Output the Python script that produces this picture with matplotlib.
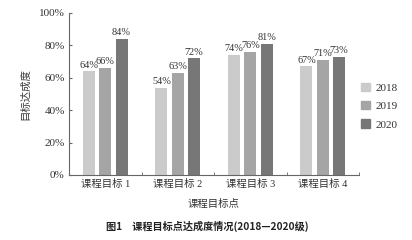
import numpy as np
import matplotlib.pyplot as plt
from matplotlib.patches import Patch

plt.rcParams['font.family'] = ['Liberation Serif', 'Noto Sans CJK SC']

categories = ['课程目标 1', '课程目标 2', '课程目标 3', '课程目标 4']
years = ['2018', '2019', '2020']
values = {
    '2018': [64, 54, 74, 67],
    '2019': [66, 63, 76, 71],
    '2020': [84, 72, 81, 73],
}
colors = ['#cbcbcb', '#a5a5a5', '#777777']

fig = plt.figure(figsize=(4.12, 2.4), dpi=100)
ax = fig.add_axes([69 / 412, 1 - 175 / 240, 290 / 412, 162 / 240])

x = np.arange(len(categories))
width = 0.165
step = 0.225
for i, yr in enumerate(years):
    pos = x + (i - 1) * step
    ax.bar(pos, values[yr], width=width, color=colors[i])
    for p, v in zip(pos, values[yr]):
        ax.text(p, v + 1.0, f'{v}%', ha='center', va='bottom', fontsize=7.4,
                color='#333333')

ax.set_xlim(-0.5, 3.5)
ax.set_ylim(0, 100)
ax.set_yticks(range(0, 101, 20))
ax.set_yticklabels([f'{t}%' for t in range(0, 101, 20)], fontsize=8,
                   color='#333333')
ax.set_xticks(x)
ax.set_xticklabels(categories, fontsize=7.5, color='#333333')
ax.set_xticks(np.arange(-0.5, 4, 1), minor=True)
ax.tick_params(axis='x', which='major', length=0, pad=3)
ax.tick_params(axis='x', which='minor', direction='in', length=2.5,
               color='#666666')
ax.tick_params(axis='y', direction='in', length=2.5, color='#666666', pad=3)

for s in ['top', 'right']:
    ax.spines[s].set_visible(False)
for s in ['left', 'bottom']:
    ax.spines[s].set_color('#666666')
    ax.spines[s].set_linewidth(0.8)

ax.set_ylabel('目标达成度', fontsize=7.5, color='#333333', labelpad=6)
ax.set_xlabel('课程目标点', fontsize=7.5, color='#333333', labelpad=7)

handles = [Patch(color=c) for c in colors]
fig.legend(handles, years, loc='center left', bbox_to_anchor=(351 / 412, 1 - 106 / 240),
           frameon=False, fontsize=8, handlelength=0.8, handleheight=0.8,
           labelspacing=0.75, handletextpad=0.5, labelcolor='#333333')

fig.text(0.503, 1 - 226 / 240, '图1　课程目标点达成度情况(2018—2020级)',
         ha='center', va='center', fontsize=7.3, fontweight='bold',
         family=['Noto Sans CJK SC', 'DejaVu Sans'], color='#222222')

fig.savefig('out.png', dpi=100)
